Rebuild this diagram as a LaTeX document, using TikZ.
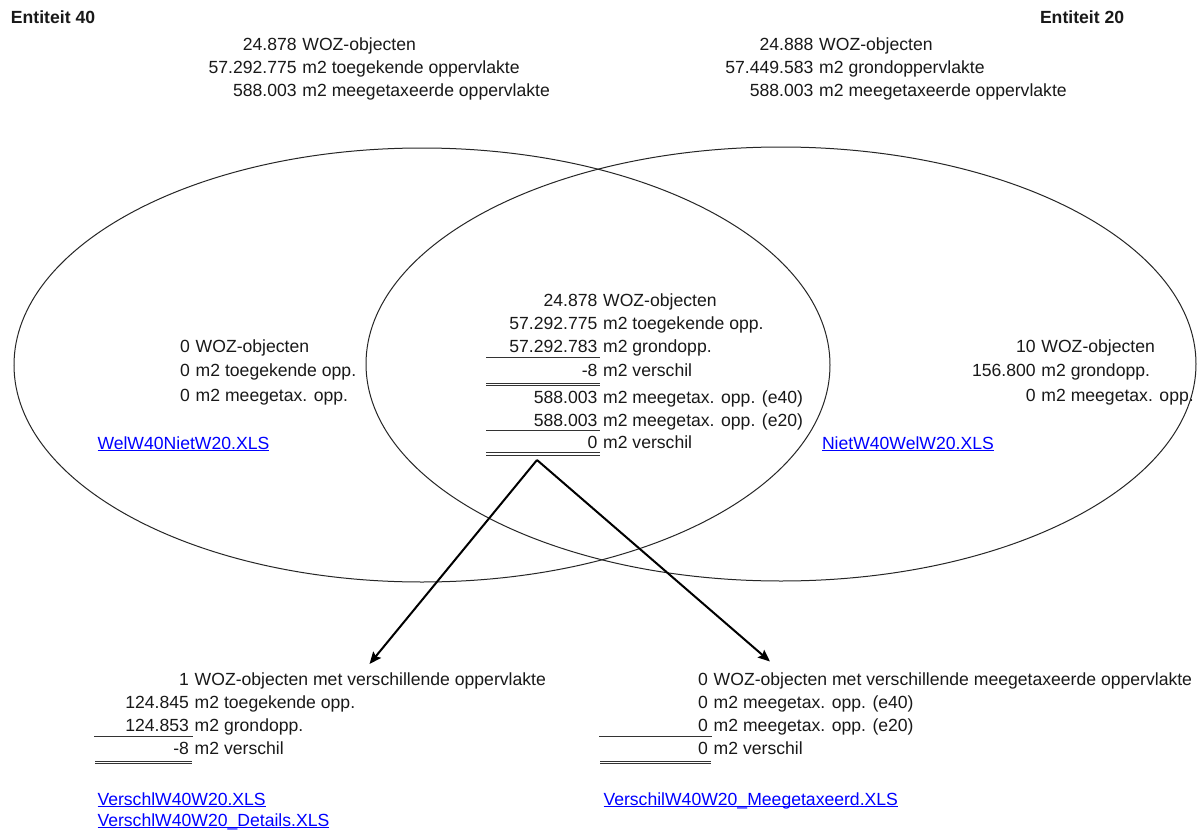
\documentclass[tikz,border=0pt]{standalone}
\usepackage{fontspec}
\setmainfont{Liberation Sans}
\usetikzlibrary{shapes.geometric,arrows.meta}
\definecolor{linkblue}{RGB}{0,0,255}
\definecolor{inkgray}{RGB}{25,25,25}
\newcommand\lnk[1]{\setbox0\hbox{#1}\rlap{\rule[-1.4pt]{\wd0}{0.7pt}}\box0}
\newcommand\numrow[5]{%
  \node[num] (#1n) at (#2,#3) {#4};
  \node[lbl] (#1l) at ([xshift=4.3pt]#1n.base east) {#5};}
\begin{document}
\begin{tikzpicture}[x=0.75pt,y=-0.75pt,
  every node/.style={inner sep=0pt,outer sep=0pt},
  txt/.style={font=\fontsize{13.2pt}{15pt}\selectfont,text=inkgray},
  num/.style={txt,anchor=base east},
  lbl/.style={txt,anchor=base west},
  head/.style={font=\fontsize{13.2pt}{15pt}\selectfont\bfseries,text=inkgray,anchor=base west},
  link/.style={txt,text=linkblue,anchor=base west},
  venn/.style={draw=black!85,line width=0.75pt,ellipse,inner sep=0pt},
  rulel/.style={draw=black!80,line width=0.75pt},
  arr/.style={draw=black,line width=1.5pt,-{Stealth[length=9pt,width=7.5pt,inset=1.5pt]}}]
\path[use as bounding box,fill=white] (0,0) rectangle (1197,832);

% Venn ellipses
\node[venn,minimum width=612pt,minimum height=325.5pt] (e40) at (422,365) {};
\node[venn,minimum width=622.5pt,minimum height=325.5pt] (e20) at (781,364) {};

% headers
\node[head] (h40) at (11,23.3) {Entiteit 40};
\node[head] (h20) at (1040,23.3) {Entiteit 20};

% top left block
\numrow{ta}{296.7}{50}{24.878}{WOZ-objecten}
\numrow{tb}{296.7}{73.3}{57.292.775}{m2 toegekende oppervlakte}
\numrow{tc}{296.7}{96.7}{588.003}{m2 meegetaxeerde oppervlakte}

% top right block
\numrow{ua}{813.5}{50}{24.888}{WOZ-objecten}
\numrow{ub}{813.5}{73.3}{57.449.583}{m2 grondoppervlakte}
\numrow{uc}{813.5}{96.7}{588.003}{m2 meegetaxeerde oppervlakte}

% centre block
\numrow{ca}{597.4}{306.7}{24.878}{WOZ-objecten}
\numrow{cb}{597.4}{329.3}{57.292.775}{m2 toegekende opp.}
\numrow{cc}{597.4}{352.7}{57.292.783}{m2 grondopp.}
\numrow{cd}{597.4}{376}{-8}{m2 verschil}
\numrow{ce}{597.4}{403.3}{588.003}{m2 meegetax. opp. (e40)}
\numrow{cf}{597.4}{426.7}{588.003}{m2 meegetax. opp. (e20)}
\numrow{cg}{597.4}{448.3}{0}{m2 verschil}
\draw[rulel] (486,357.3) -- (600,357.3);
\draw[rulel] (486,383.3) -- (600,383.3);
\draw[rulel] (486,385.8) -- (600,385.8);
\draw[rulel] (486,430.7) -- (600,430.7);
\draw[rulel] (486,452.7) -- (600,452.7);
\draw[rulel] (486,455.2) -- (600,455.2);

% left only
\numrow{la}{190}{352.7}{0}{WOZ-objecten}
\numrow{lb}{190}{376}{0}{m2 toegekende opp.}
\numrow{lc}{190}{401.7}{0}{m2 meegetax. opp.}
\node[link] (lk1) at (97.5,449) {\lnk{WelW40NietW20.XLS}};

% right only
\numrow{ra}{1035.7}{352.7}{10}{WOZ-objecten}
\numrow{rb}{1035.7}{376}{156.800}{m2 grondopp.}
\numrow{rc}{1035.7}{401.7}{0}{m2 meegetax. opp.}
\node[link] (lk2) at (822,449) {\lnk{NietW40WelW20.XLS}};

% arrows
\coordinate (apex) at (537,460);
\coordinate (tipL) at (369.5,664);
\coordinate (tipR) at (770,661.5);
\draw[arr] (apex) -- (tipL);
\draw[arr] (apex) -- (tipR);

% bottom left block
\numrow{ba}{189}{685}{1}{WOZ-objecten met verschillende oppervlakte}
\numrow{bb}{189}{708.3}{124.845}{m2 toegekende opp.}
\numrow{bc}{189}{731.7}{124.853}{m2 grondopp.}
\numrow{bd}{189}{754.3}{-8}{m2 verschil}
\draw[rulel] (94.3,736.7) -- (192.7,736.7);
\draw[rulel] (95.3,761) -- (191.7,761);
\draw[rulel] (95.3,763.5) -- (191.7,763.5);
\node[link] (lk3) at (97.5,805) {\lnk{VerschlW40W20.XLS}};
\node[link] (lk4) at (97.5,826.5) {\lnk{VerschlW40W20\_Details.XLS}};

% bottom right block
\numrow{da}{708}{685}{0}{WOZ-objecten met verschillende meegetaxeerde oppervlakte}
\numrow{db}{708}{708.3}{0}{m2 meegetax. opp. (e40)}
\numrow{dc}{708}{731.7}{0}{m2 meegetax. opp. (e20)}
\numrow{dd}{708}{754.3}{0}{m2 verschil}
\draw[rulel] (599.3,736.7) -- (711.7,736.7);
\draw[rulel] (600,761) -- (710.7,761);
\draw[rulel] (600,763.5) -- (710.7,763.5);
\node[link] (lk5) at (603.5,805) {\lnk{VerschilW40W20\_Meegetaxeerd.XLS}};
\end{tikzpicture}
\end{document}
